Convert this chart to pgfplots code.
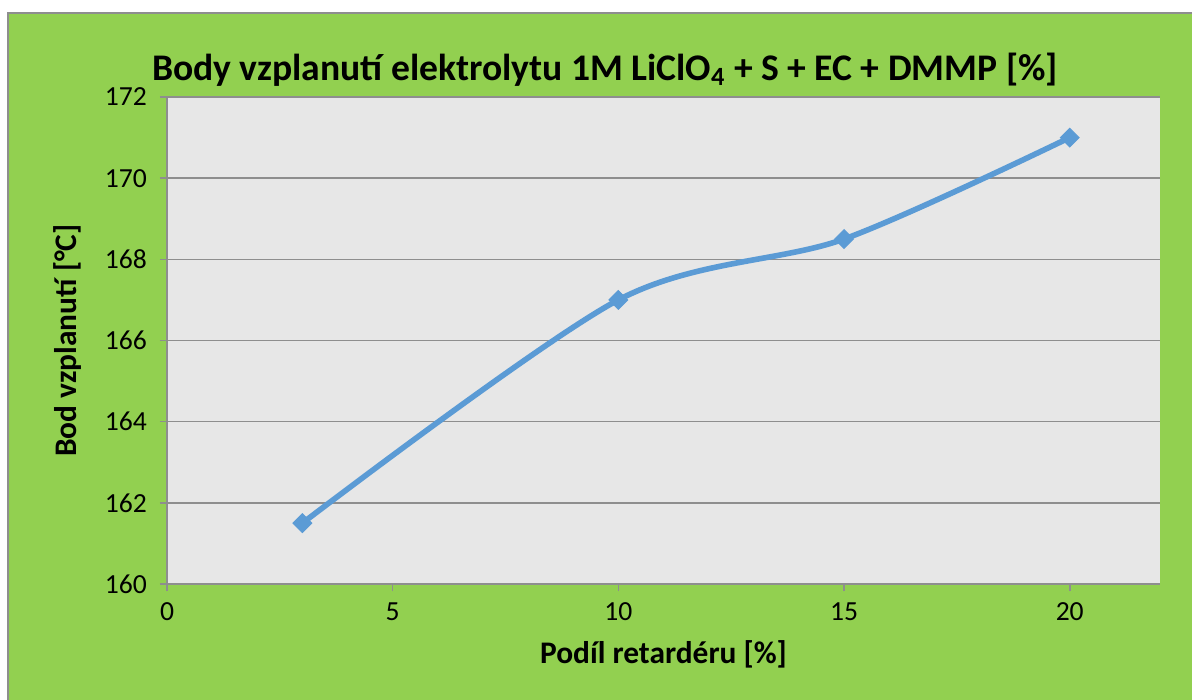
\documentclass[border=0pt]{standalone}
\usepackage{pgfplots}
\pgfplotsset{compat=1.18}
\usepackage{fontspec}
\setmainfont{Carlito}
\definecolor{bggreen}{HTML}{92D050}
\definecolor{plotgray}{HTML}{E7E7E7}
\definecolor{gridgray}{HTML}{8E8E8E}
\definecolor{line}{HTML}{5B9BD5}
\begin{document}
\begin{tikzpicture}
\path[use as bounding box] (0pt,0pt) rectangle (596pt,350pt);
\fill[white] (0pt,0pt) rectangle (596pt,350pt);
\filldraw[fill=bggreen,draw=gridgray,line width=0.8pt] (4pt,-1pt) rectangle (597pt,343.5pt);
\node[font=\fontsize{18.8}{20}\selectfont\bfseries] at (302.5pt,315pt) {Body vzplanutí elektrolytu 1M LiClO\textsubscript{4} + S + EC + DMMP [\%]};
\begin{axis}[
  at={(83.5pt,58pt)}, anchor=south west,
  scale only axis, width=496.5pt, height=243.5pt,
  xmin=0, xmax=22, ymin=160, ymax=172,
  xtick={0,5,10,15,20}, ytick={160,162,...,172},
  axis background/.style={fill=plotgray},
  axis x line*=bottom, axis y line*=left,
  axis line style={gridgray, line width=0.8pt},
  ymajorgrids, major grid style={gridgray, line width=0.8pt},
  tick style={gridgray, line width=0.8pt},
  major tick length=3.5pt, tick align=outside,
  xtick pos=bottom, ytick pos=left,
  /pgf/number format/assume math mode=true,
  ticklabel style={font=\fontsize{13.8}{15}\selectfont},
  xticklabel style={yshift=-2.5pt},
  yticklabel style={xshift=-3pt},
  xlabel={\bfseries Podíl retardéru [\%]},
  ylabel={\bfseries Bod vzplanutí [°C]},
  label style={font=\fontsize{15.7}{17}\selectfont},
  xlabel style={yshift=-3pt},
  ylabel style={yshift=5pt},
]
\addplot[line, line width=2.8pt, smooth, tension=0.5, mark=square*, mark size=3.3pt,
  mark options={rotate=45, solid, fill=line, draw=line, line width=0.5pt}]
  coordinates {(3,161.5) (10,167) (15,168.5) (20,171)};
\end{axis}
\end{tikzpicture}
\end{document}
